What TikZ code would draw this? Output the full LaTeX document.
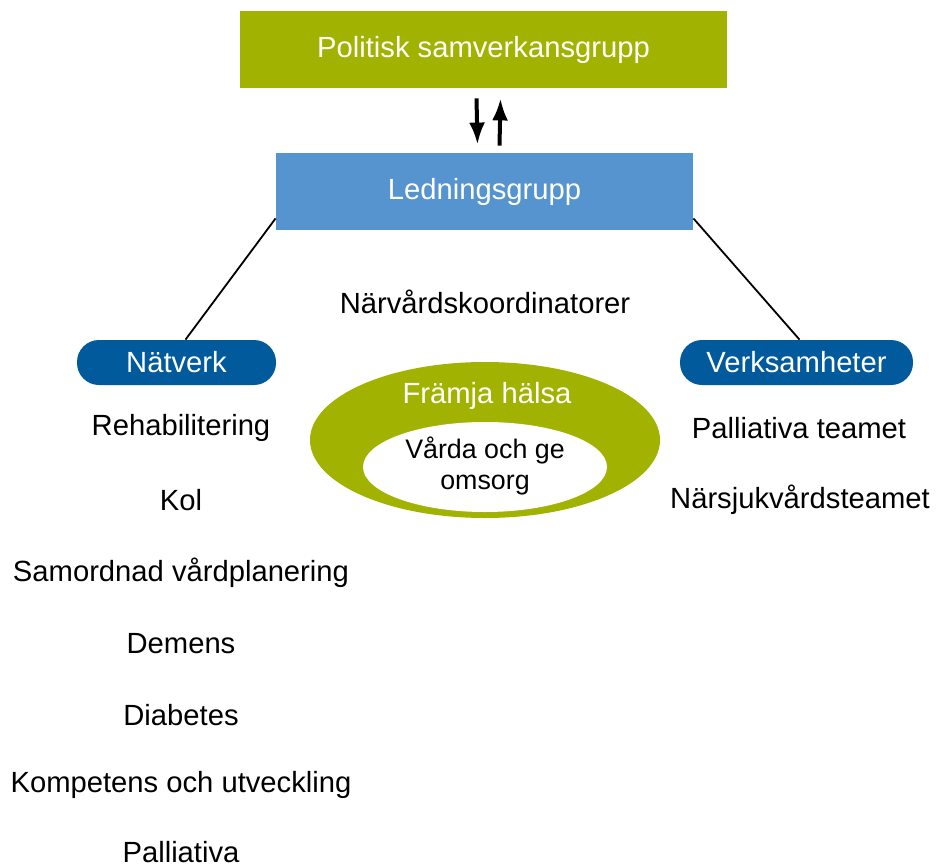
\documentclass[tikz,border=0pt]{standalone}
\usepackage{fontspec}
\setmainfont{Liberation Sans}
\usepackage{tikz}
\usetikzlibrary{calc,shapes,arrows.meta}
\definecolor{olive}{RGB}{162,178,0}
\definecolor{lightblue}{RGB}{86,148,207}
\definecolor{darkblue}{RGB}{0,90,156}
\tikzset{
   box/.style={rectangle, inner sep=0pt, text=white, font=\fontsize{14.6}{17}\selectfont},
   pill/.style={rectangle, rounded corners=11pt, fill=darkblue, inner sep=0pt,
                minimum height=22.5pt, text=white, font=\fontsize{14.6}{17}\selectfont},
   item/.style={font=\fontsize{14.6}{17}\selectfont, inner sep=0pt},
   updown/.style={line width=2pt, -{Latex[length=11pt,width=8pt]}}
}

\begin{document}
\begin{tikzpicture}[x=0.5pt,y=-0.5pt]
\useasboundingbox (0,0) rectangle (937,867);

% top of the organisation
\node[box, fill=olive, minimum width=243.5pt, minimum height=38.5pt] (politisk) at (483.5,49.5) {Politisk samverkansgrupp};
\node[box, fill=lightblue, minimum width=208.5pt, minimum height=38.5pt] (ledning) at (484.5,191.5) {Ledningsgrupp};

\node[item] (koord) at (485,302) {Närvårdskoordinatorer};

% the two branches
\node[pill, minimum width=99.5pt] (natverk) at (176.5,362.5) {Nätverk};
\node[pill, minimum width=116.5pt] (verksamheter) at (796.5,362.5) {Verksamheter};

% ring in the middle
\fill[olive] (485,440) ellipse [x radius=87.5pt, y radius=39pt];
\fill[white] (485,467) ellipse [x radius=61pt, y radius=22.5pt];
\node[item, text=white] (framja) at (487,396) {Främja hälsa};
\node[item, align=center, font=\fontsize{13.4}{15.5}\selectfont] (varda) at (485,466) {Vårda och ge\\omsorg};

% networks
\node[item] (rehab) at (181,428) {Rehabilitering};
\node[item] (kol) at (181,500) {Kol};
\node[item] (samordnad) at (181,573) {Samordnad vårdplanering};
\node[item] (demens) at (181,644) {Demens};
\node[item] (diabetes) at (181,715) {Diabetes};
\node[item] (kompetens) at (181,785) {Kompetens och utveckling};
\node[item] (palliativa) at (181,852) {Palliativa};

% units
\node[item] (pteam) at (799,428) {Palliativa teamet};
\node[item] (nteam) at (800,500) {Närsjukvårdsteamet};

\draw[updown] ([xshift=-3.5pt,yshift=-5pt]politisk.south) -- ([xshift=-3.5pt,yshift=4pt]ledning.north);
\draw[updown] ([xshift=7.5pt,yshift=3.5pt]ledning.north) -- ([xshift=8.5pt,yshift=-5pt]politisk.south);

\path[-, line width=0.9pt]
([yshift=6pt]ledning.south west) edge ([xshift=4.5pt]natverk.north)
([yshift=6pt]ledning.south east) edge ([xshift=1.5pt]verksamheter.north)
;

\end{tikzpicture}
\end{document}
